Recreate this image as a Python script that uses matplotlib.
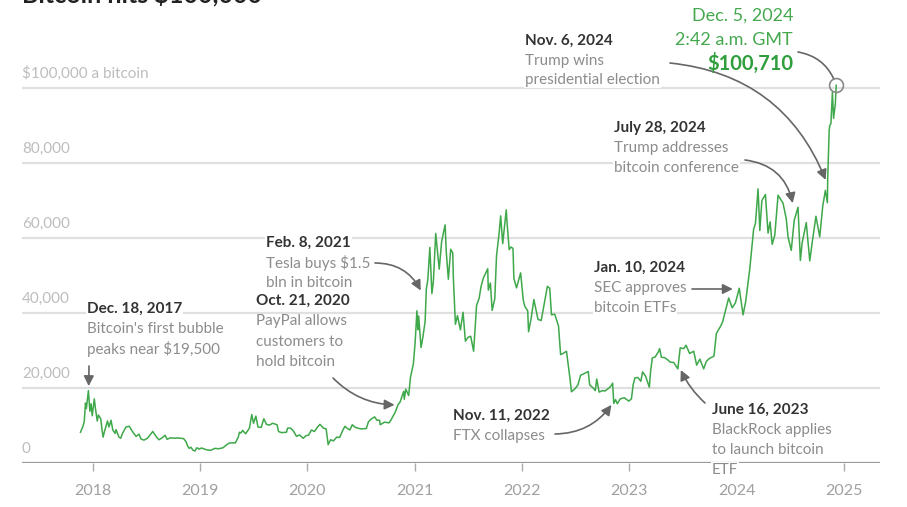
import pandas as pd
import matplotlib
matplotlib.use('Agg')
import matplotlib.pyplot as plt

plt.rcParams['font.family'] = ['Lato', 'DejaVu Sans']

# Bitcoin price (USD)
dates = [
    # 2017
    '2017-11-20', '2017-11-26', '2017-11-29', '2017-12-03', '2017-12-07', '2017-12-10',
    '2017-12-17', '2017-12-22', '2017-12-26', '2017-12-30',
    # 2018
    '2018-01-06', '2018-01-10', '2018-01-16', '2018-01-20', '2018-01-28', '2018-02-01',
    '2018-02-05', '2018-02-10', '2018-02-20', '2018-02-25', '2018-03-04', '2018-03-10',
    '2018-03-18', '2018-03-21', '2018-03-31', '2018-04-06', '2018-04-12', '2018-04-24',
    '2018-05-05', '2018-05-15', '2018-05-28', '2018-06-07', '2018-06-14', '2018-06-24',
    '2018-07-06', '2018-07-24', '2018-08-05', '2018-08-14', '2018-08-25', '2018-09-04',
    '2018-09-11', '2018-09-21', '2018-10-10', '2018-10-15', '2018-11-06', '2018-11-14',
    '2018-11-20', '2018-11-25', '2018-12-01', '2018-12-08', '2018-12-15', '2018-12-20',
    '2018-12-24', '2018-12-28',
    # 2019
    '2019-01-06', '2019-01-20', '2019-01-28', '2019-02-07', '2019-02-20', '2019-03-05',
    '2019-03-20', '2019-04-02', '2019-04-10', '2019-04-25', '2019-05-01', '2019-05-11',
    '2019-05-15', '2019-05-20', '2019-05-26', '2019-06-05', '2019-06-18', '2019-06-26',
    '2019-07-02', '2019-07-10', '2019-07-17', '2019-07-28', '2019-08-06', '2019-08-15',
    '2019-08-25', '2019-09-05', '2019-09-20', '2019-09-25', '2019-10-05', '2019-10-22',
    '2019-10-26', '2019-11-05', '2019-11-15', '2019-11-25', '2019-12-05', '2019-12-18',
    '2019-12-28',
    # 2020
    '2020-01-05', '2020-01-15', '2020-01-25', '2020-02-05', '2020-02-13', '2020-02-25',
    '2020-03-05', '2020-03-12', '2020-03-20', '2020-03-30', '2020-04-10', '2020-04-20',
    '2020-04-30', '2020-05-08', '2020-05-15', '2020-05-25', '2020-06-02', '2020-06-12',
    '2020-06-25', '2020-07-05', '2020-07-20', '2020-07-27', '2020-08-05', '2020-08-17',
    '2020-08-25', '2020-09-03', '2020-09-05', '2020-09-20', '2020-10-05', '2020-10-12',
    '2020-10-21', '2020-10-27', '2020-11-05', '2020-11-12', '2020-11-24', '2020-11-26',
    '2020-12-01', '2020-12-11', '2020-12-17', '2020-12-27',
    # 2021
    '2021-01-02', '2021-01-08', '2021-01-11', '2021-01-14', '2021-01-22', '2021-01-28',
    '2021-02-05', '2021-02-09', '2021-02-14', '2021-02-21', '2021-02-28', '2021-03-05',
    '2021-03-13', '2021-03-25', '2021-04-02', '2021-04-14', '2021-04-18', '2021-04-25',
    '2021-05-03', '2021-05-10', '2021-05-12', '2021-05-19', '2021-05-26', '2021-06-05',
    '2021-06-14', '2021-06-22', '2021-07-01', '2021-07-10', '2021-07-20', '2021-07-30',
    '2021-08-08', '2021-08-14', '2021-08-22', '2021-09-06', '2021-09-08', '2021-09-15',
    '2021-09-21', '2021-09-30', '2021-10-06', '2021-10-15', '2021-10-20', '2021-10-27',
    '2021-11-08', '2021-11-10', '2021-11-18', '2021-11-24', '2021-12-01', '2021-12-04',
    '2021-12-13', '2021-12-27',
    # 2022
    '2022-01-05', '2022-01-10', '2022-01-20', '2022-01-23', '2022-02-01', '2022-02-10',
    '2022-02-24', '2022-03-07', '2022-03-28', '2022-04-05', '2022-04-11', '2022-04-22',
    '2022-05-05', '2022-05-12', '2022-05-20', '2022-06-01', '2022-06-13', '2022-06-18',
    '2022-06-30', '2022-07-10', '2022-07-19', '2022-07-30', '2022-08-14', '2022-08-19',
    '2022-08-31', '2022-09-07', '2022-09-12', '2022-09-20', '2022-10-01', '2022-10-10',
    '2022-10-25', '2022-10-31', '2022-11-05', '2022-11-09', '2022-11-15', '2022-11-21',
    '2022-12-01', '2022-12-15', '2022-12-30',
    # 2023
    '2023-01-08', '2023-01-14', '2023-01-20', '2023-01-30', '2023-02-09', '2023-02-15',
    '2023-02-25', '2023-03-10', '2023-03-14', '2023-03-20', '2023-03-30', '2023-04-10',
    '2023-04-14', '2023-04-20', '2023-05-01', '2023-05-10', '2023-05-20', '2023-06-01',
    '2023-06-15', '2023-06-23', '2023-07-05', '2023-07-13', '2023-07-25', '2023-08-08',
    '2023-08-18', '2023-08-29', '2023-09-11', '2023-09-20', '2023-10-01', '2023-10-16',
    '2023-10-24', '2023-11-09', '2023-11-15', '2023-12-05', '2023-12-17', '2023-12-28',
    # 2024
    '2024-01-10', '2024-01-23', '2024-02-01', '2024-02-15', '2024-02-28', '2024-03-05',
    '2024-03-14', '2024-03-20', '2024-03-27', '2024-04-08', '2024-04-17', '2024-04-24',
    '2024-05-01', '2024-05-10', '2024-05-21', '2024-06-07', '2024-06-18', '2024-06-24',
    '2024-07-05', '2024-07-15', '2024-07-28', '2024-08-05', '2024-08-11', '2024-08-25',
    '2024-09-06', '2024-09-15', '2024-09-27', '2024-10-10', '2024-10-20', '2024-10-29',
    '2024-11-05', '2024-11-06', '2024-11-11', '2024-11-13', '2024-11-17', '2024-11-22',
    '2024-11-26', '2024-12-02', '2024-12-05',
]
prices = [
    # 2017
    8200, 9300, 9900, 11200, 16000, 14500, 19300, 13800, 15800, 12600,
    # 2018
    17100, 14500, 11200, 12800, 11800, 9100, 6900, 8500, 11200, 9600, 11400, 8800,
    7900, 8900, 6900, 6600, 7900, 9600, 9800, 8500, 7100, 7700, 6400, 6100,
    6600, 8400, 7000, 6200, 6700, 7400, 6300, 6700, 6600, 6700, 6500, 5700,
    4500, 3900, 4200, 3400, 3200, 4000, 4000, 3700,
    # 2019
    4000, 3600, 3450, 3400, 3900, 3800, 4050, 4900, 5300, 5400, 5350, 6900,
    8200, 8000, 8700, 7800, 9300, 12900, 10600, 12500, 9600, 9500, 11800, 10300,
    10100, 10600, 10200, 8400, 8100, 8200, 9300, 9300, 8500, 7100, 7500, 6600,
    7300,
    # 2020
    7400, 8800, 8400, 9600, 10300, 9300, 9100, 4900, 6200, 5900, 6900, 6800,
    8600, 9800, 9300, 8800, 10200, 9500, 9200, 9100, 9200, 11000, 11700, 12300,
    11400, 11400, 10200, 10900, 10700, 11500, 12800, 13700, 15600, 16300, 19100, 17000,
    19700, 18000, 22800, 26500,
    # 2021
    32200, 40600, 35500, 39200, 30800, 33400, 37800, 46400, 48800, 57500, 45200, 48400,
    61200, 51700, 59000, 63500, 56200, 49000, 57000, 56000, 49400, 37000, 39300, 35500,
    40200, 32500, 33500, 33800, 29800, 42000, 44000, 47000, 49300, 51800, 46100, 48000,
    40700, 43800, 55300, 61500, 65900, 58500, 67500, 64900, 56900, 57600, 57200, 49200,
    46700, 50700,
    # 2022
    43400, 41800, 40600, 35000, 38700, 43600, 38300, 38000, 47100, 46600, 39500, 39700,
    36500, 28900, 29200, 29800, 22500, 19000, 19800, 20800, 23400, 23800, 24400, 20800,
    20000, 19300, 22400, 18900, 19300, 19200, 20100, 20600, 21300, 15900, 16900, 15800,
    17100, 17400, 16500,
    # 2023
    17100, 20900, 22700, 22800, 21800, 24300, 23200, 20200, 24200, 28000, 28300, 29700,
    30500, 28200, 28100, 27600, 26900, 26800, 25100, 30700, 30500, 31400, 29200, 29800,
    26100, 27700, 25100, 27100, 27900, 28500, 34500, 36700, 37800, 44000, 41400, 42700,
    # 2024
    46600, 39500, 43100, 51900, 62400, 63800, 73100, 62000, 70000, 71600, 61300, 64300,
    58300, 60800, 71400, 69300, 65100, 60300, 56700, 64700, 68200, 54000, 58700, 64100,
    53900, 59200, 65800, 60300, 68400, 72700, 69400, 75600, 88700, 90000, 90500, 98900,
    91900, 95800, 100710,
]
assert len(dates) == len(prices)

year_ticks = ['2018', '2019', '2020', '2021', '2022', '2023', '2024', '2025']
y_ticks = [0, 20000, 40000, 60000, 80000, 100000]
y_labels = ['0', '20,000', '40,000', '60,000', '80,000', '$100,000 a bitcoin']

df = pd.DataFrame({'date': pd.to_datetime(dates), 'price': prices})

W, H = 907, 507
def fp(x, y):
    # figure pixel (from top-left) -> figure fraction
    return (x / W, 1 - y / H)

fig = plt.figure(figsize=(W / 100, H / 100), dpi=100)
ax = fig.add_axes([22 / W, (H - 463) / H, (880 - 22) / W, (463 - 10) / H])

ax.plot(df['date'], df['price'], color='#3ea84a', lw=1.1, zorder=3)

ax.set_xlim(pd.Timestamp('2017-05-05'), pd.Timestamp('2025-05-03'))
ax.set_ylim(0, 120800)

# gridlines and baseline
for v in y_ticks[1:]:
    ax.axhline(v, color='#e0e0e0', lw=1.6, zorder=1)
ax.axhline(0, color='#9a9a9a', lw=1.6, zorder=2)
for s in ax.spines.values():
    s.set_visible(False)

# y labels sit above their gridlines on the left
ax.set_yticks([])
for v, lab in zip(y_ticks, y_labels):
    ax.annotate(lab, xy=(0, v), xycoords=('axes fraction', 'data'),
                xytext=(0, 5), textcoords='offset points',
                ha='left', va='bottom', fontsize=11, color='#bdbdbd')

ax.set_xticks([pd.Timestamp(y + '-01-01') for y in year_ticks])
ax.set_xticklabels(year_ticks)
ax.tick_params(axis='x', length=6, width=1, color='#aaaaaa', labelcolor='#a0a0a0',
               labelsize=11.5, pad=9)

# partially visible title at the very top
fig.text(*fp(22, 2), 'Bitcoin hits $100,000', fontsize=18, fontweight='bold',
         color='#222222', va='baseline', ha='left')

DARK = '#333333'
GREY = '#8c8c8c'
BOX = dict(facecolor='white', edgecolor='none', pad=0.6)

def note(x, y, lines, step=20):
    fig.text(*fp(x, y), lines[0], fontsize=11, fontweight='bold', color=DARK,
             ha='left', va='center', bbox=BOX, zorder=5)
    for i, t in enumerate(lines[1:], 1):
        fig.text(*fp(x, y + i * step), t, fontsize=11, color=GREY,
                 ha='left', va='center', bbox=BOX, zorder=5)

def arrow(tail, head, rad=0.0, style='-|>,head_length=0.6,head_width=0.3', shrink=0):
    ax.annotate('', xy=head, xycoords='data', xytext=fp(*tail),
                textcoords='figure fraction',
                arrowprops=dict(arrowstyle=style, color='#666666', lw=1.2,
                                connectionstyle='arc3,rad=%s' % rad,
                                shrinkA=0, shrinkB=shrink))

note(87, 309, ['Dec. 18, 2017', "Bitcoin's first bubble", 'peaks near $19,500'])
arrow((89, 366), (pd.Timestamp('2017-12-18'), 20500))

note(266, 243, ['Feb. 8, 2021', 'Tesla buys $1.5', 'bln in bitcoin'])
arrow((375, 263), (pd.Timestamp('2021-01-21'), 46000), rad=-0.3)

note(256, 301, ['Oct. 21, 2020', 'PayPal allows', 'customers to', 'hold bitcoin'], step=20.5)
arrow((333, 378), (pd.Timestamp('2020-10-24'), 15500), rad=0.2)

note(453, 416, ['Nov. 11, 2022', 'FTX collapses'])
arrow((555, 434), (pd.Timestamp('2022-11-01'), 15500), rad=0.25)

note(712, 410, ['June 16, 2023', 'BlackRock applies', 'to launch bitcoin', 'ETF'])
arrow((705, 403), (pd.Timestamp('2023-06-25'), 24800), rad=-0.1)

note(594, 268, ['Jan. 10, 2024', 'SEC approves', 'bitcoin ETFs'])
arrow((692, 289), (pd.Timestamp('2023-12-19'), 46400))

note(614, 128, ['July 28, 2024', 'Trump addresses', 'bitcoin conference'])
arrow((745, 160), (pd.Timestamp('2024-07-10'), 69300), rad=-0.35)

note(525, 41, ['Nov. 6, 2024', 'Trump wins', 'presidential election'], step=19.5)
arrow((670, 63), (pd.Timestamp('2024-10-30'), 75500), rad=-0.3)

# record high
last = df.iloc[-1]
ax.plot([last['date']], [last['price']], marker='o', ms=10, mfc='none',
        mec='#888888', mew=1.2, zorder=4, clip_on=False)
arrow((798, 52), (last['date'], last['price']), rad=-0.3, style='-', shrink=5)
GREEN = '#45a84f'
fig.text(*fp(793, 16), 'Dec. 5, 2024', fontsize=13, color=GREEN, ha='right', va='center')
fig.text(*fp(793, 40), '2:42 a.m. GMT', fontsize=13, color=GREEN, ha='right', va='center')
fig.text(*fp(793, 63), '$%s' % format(last['price'], ','), fontsize=14.5,
         fontweight='bold', color='#2f9e3c', ha='right', va='center')

fig.savefig('out.png', dpi=100)
